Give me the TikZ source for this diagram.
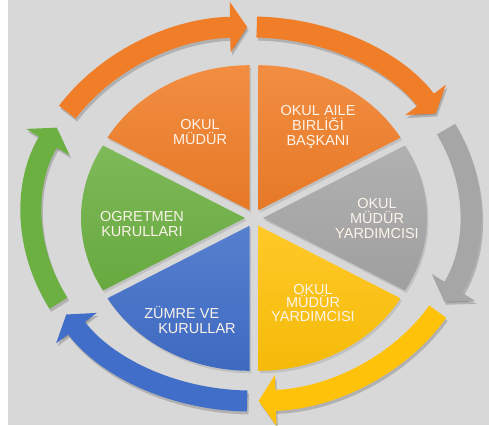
\documentclass[tikz,border=0pt]{standalone}
\usepackage{fontspec}
\setmainfont{Liberation Sans}
\usepackage{tikz}
\usetikzlibrary {
  arrows.meta,
  calc,
  shadows,
}
\definecolor{bgGrey}{RGB}{216,216,216}
\definecolor{pieOrange}{RGB}{240,126,40}
\definecolor{pieGrey}{RGB}{166,166,166}
\definecolor{pieYellow}{RGB}{255,194,10}
\definecolor{pieBlue}{RGB}{64,110,200}
\definecolor{pieGreen}{RGB}{108,176,66}
\definecolor{txtCream}{RGB}{252,244,234}
\tikzset{
  slice/.style = {
    top color = #1!88!white,
    bottom color = #1!96!black,
    drop shadow = {shadow xshift = 1.5pt, shadow yshift = -2.5pt, opacity = .25}
  },
  ringarrow/.style = {
    -{Triangle[width = 50pt, length = 17pt]},
    line width = 21pt,
    color = #1
  },
  txt/.style = {
    text = txtCream,
    align = center,
    font = \fontsize{14.5}{15}\selectfont
  },
}
\newcommand{\slice}[3]{
  \path[slice = #3] ($(pie)+({(#1+#2)/2}:9)$)
    -- ++({164*cos(#1)},{145*sin(#1)})
    arc[start angle = #1, end angle = #2, x radius = 164, y radius = 145]
    -- cycle;
}
\newcommand{\cyclearrow}[3]{
  \draw[ringarrow = black, opacity = .18]
    ($(ring)+(1.5,-3)+({219*cos(#1)},{187*sin(#1)})$)
    arc[start angle = #1, end angle = #2, x radius = 219, y radius = 187];
  \draw[ringarrow = #3]
    ($(ring)+({219*cos(#1)},{187*sin(#1)})$)
    arc[start angle = #1, end angle = #2, x radius = 219, y radius = 187];
}

\begin{document}
\begin{tikzpicture}[x = 1pt, y = 1pt]
  \useasboundingbox (0,0) rectangle (489,425);
  \fill[bgGrey] (8,0) rectangle (489,425);
  \coordinate (pie) at (254,207);
  \coordinate (ring) at (251,211);

  \cyclearrow{147}{91}{pieOrange}
  \cyclearrow{88.5}{32.5}{pieOrange}
  \cyclearrow{27}{-28}{pieGrey}
  \cyclearrow{-31.5}{-88}{pieYellow}
  \cyclearrow{-91}{-147.5}{pieBlue}
  \cyclearrow{208.5}{152.5}{pieGreen}

  \slice{90}{150}{pieOrange}
  \slice{30}{90}{pieOrange}
  \slice{-30}{30}{pieGrey}
  \slice{-90}{-30}{pieYellow}
  \slice{-150}{-90}{pieBlue}
  \slice{150}{210}{pieGreen}

  \node[txt] (mudur) at (200,293) {OKUL\\MÜDÜR};
  \node[txt] (aile) at (318,298) {OKUL AILE\\BIRLİĞİ\\BAŞKANI};
  \node[txt] (yardA) at (377,206) {OKUL\\MÜDÜR\\YARDIMCISI};
  \node[txt, font = \fontsize{14.5}{13.5}\selectfont] (yardB) at (313,122)
    {OKUL\\MÜDÜR\\YARDIMCISI};
  \node[txt, align = left] (zumre) at (190,104.5) {ZÜMRE VE\\\hspace*{14pt}KURULLAR};
  \node[txt] (ogretmen) at (142,201) {OGRETMEN\\KURULLARI};
\end{tikzpicture}
\end{document}
